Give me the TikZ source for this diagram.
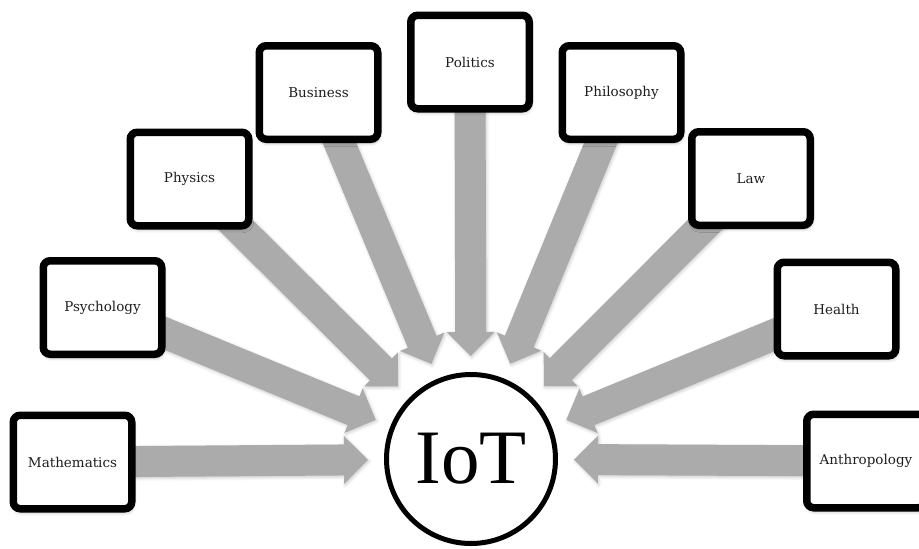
\documentclass[tikz,border=0pt]{standalone}
\usepackage{fontspec}
\setmainfont{DejaVu Serif}
\newfontfamily\iotfont{Liberation Serif}
\usetikzlibrary{calc,shadows.blur}
\pgfdeclarelayer{background}
\pgfsetlayers{background,main}
\definecolor{arrowgray}{RGB}{171,171,171}
\definecolor{labelink}{RGB}{30,30,30}
\tikzset{
  topic/.style={draw=black, line width=7.5pt, fill=white, rounded corners=7pt,
    minimum width=118.5pt, minimum height=93.5pt, inner sep=0pt,
    font=\fontsize{13.5}{15}\selectfont, text=labelink,
    blur shadow={shadow xshift=1pt, shadow yshift=-3pt,
      shadow blur radius=4pt, shadow opacity=40}},
  hub/.style={circle, draw=black, line width=5pt, fill=white,
    minimum size=169pt, inner sep=0pt,
    font=\iotfont\fontsize{77}{77}\selectfont},
  feed/.style={fill=arrowgray,
    blur shadow={shadow xshift=1pt, shadow yshift=-1.5pt,
      shadow blur radius=3pt, shadow opacity=20}}
}
% block arrow from the centre of #1 towards #2, tip stopping short of #2
\newcommand{\feedarrow}[2]{%
  \path ($(#2.center)!103pt!(#1.center)$) coordinate (tip)
        ($(tip)!24pt!(#1.center)$) coordinate (neck);
  \fill[feed] ($(#1.center)!15.5pt!90:(#2.center)$)
    -- ($(neck)!15.5pt!90:(#2.center)$)
    -- ($(neck)!24pt!90:(#2.center)$)
    -- (tip)
    -- ($(neck)!24pt!-90:(#2.center)$)
    -- ($(neck)!15.5pt!-90:(#2.center)$)
    -- ($(#1.center)!15.5pt!-90:(#2.center)$) -- cycle;
}
\begin{document}
\begin{tikzpicture}[x=1pt,y=-1pt]
  \useasboundingbox (0,0) rectangle (919,549);
  \begin{scope}
    \clip (0,0) rectangle (919,549);
    \node[hub] (iot) at (471,459) {IoT};

    \node[topic] (math)  at (72.5,462)  {Mathematics};
    \node[topic] (psych) at (102.5,307.5) {Psychology};
    \node[topic] (phys)  at (189.5,179)  {Physics};
    \node[topic] (bus)   at (318.5,92.5) {Business};
    \node[topic] (pol)   at (470,62)     {Politics};
    \node[topic] (phil)  at (621.5,92.5) {Philosophy};
    \node[topic] (law)   at (751,178.5)  {Law};
    \node[topic] (health) at (836.5,309) {Health};
    \node[topic] (anth)  at (866,461)    {Anthropology};
  \end{scope}

  \begin{pgfonlayer}{background}
    \foreach \src in {math,psych,phys,bus,pol,phil,law,health,anth}
      {\feedarrow{\src}{iot}}
  \end{pgfonlayer}
\end{tikzpicture}
\end{document}
